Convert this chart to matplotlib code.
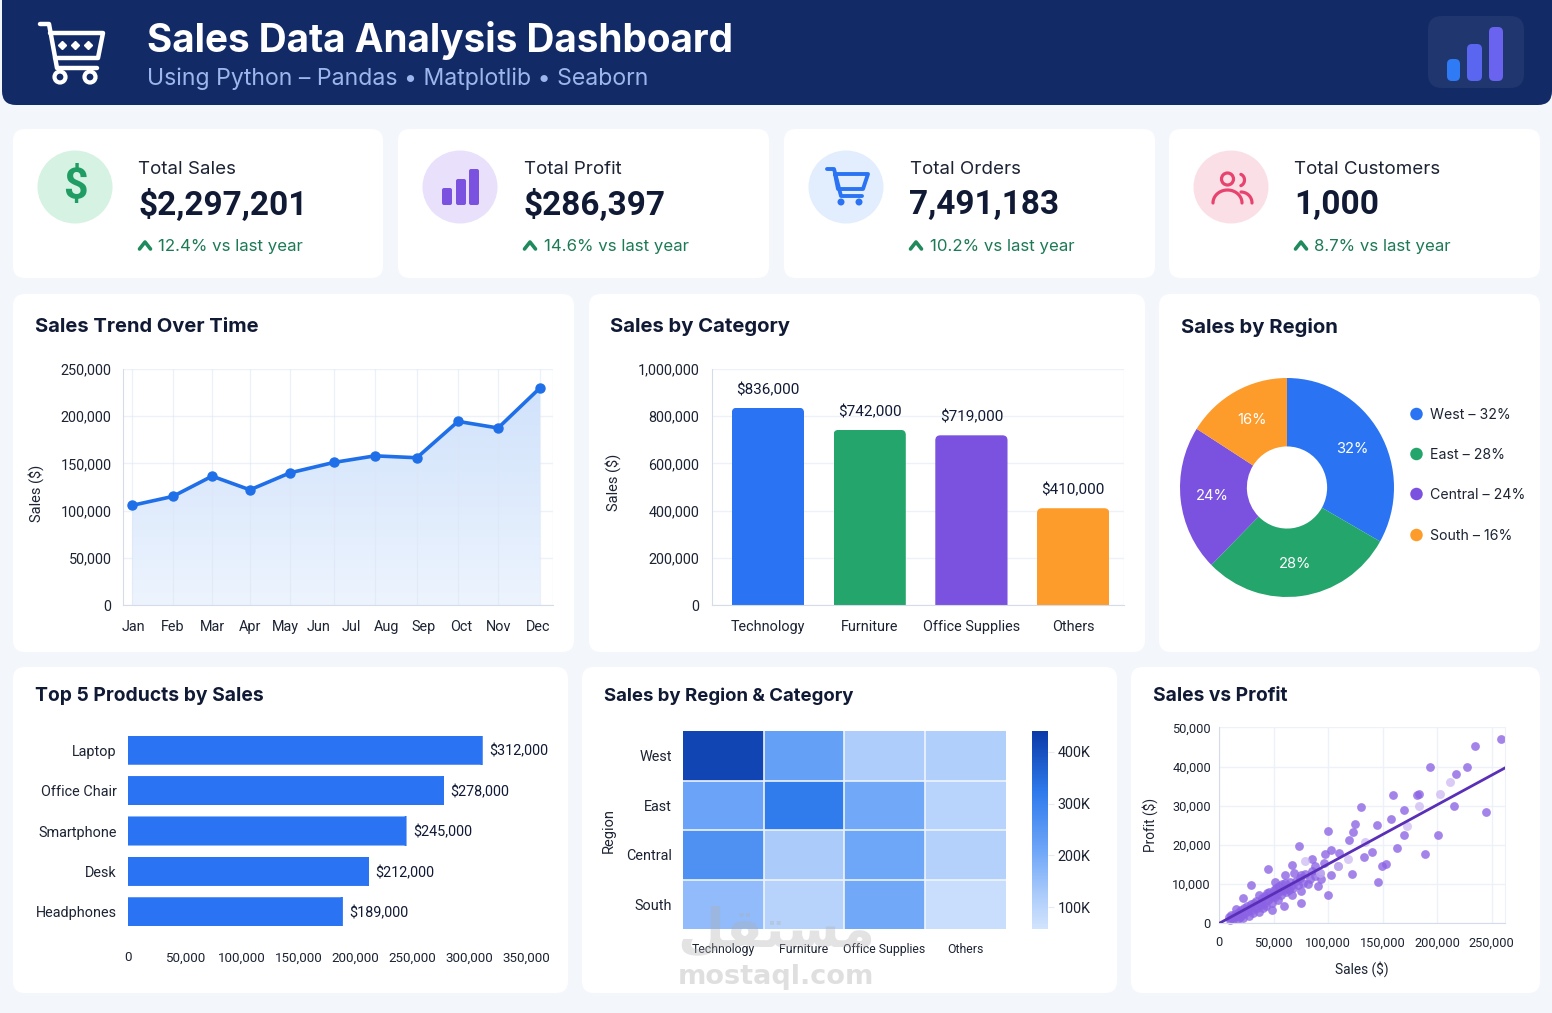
import numpy as np
import matplotlib
matplotlib.use("Agg")
import matplotlib.pyplot as plt
from matplotlib.colors import LinearSegmentedColormap
from matplotlib.patches import FancyBboxPatch, Ellipse, Polygon
from matplotlib.transforms import IdentityTransform
from matplotlib.ticker import FuncFormatter

# chart text is narrow, so Roboto is the default; headings name Inter
plt.rcParams['font.family'] = ['Roboto', 'DejaVu Sans']
INTER = ['Inter', 'DejaVu Sans']

W, H = 1552, 1013

# kpi cards
kpi_titles = ["Total Sales", "Total Profit", "Total Orders", "Total Customers"]
kpi_values = ["$2,297,201", "$286,397", "7,491,183", "1,000"]
kpi_changes = ["12.4% vs last year", "14.6% vs last year", "10.2% vs last year", "8.7% vs last year"]

# sales trend, months as read against the axis
trend_month = [0, 1.1, 2.16, 3.18, 4.26, 5.44, 6.55, 7.68, 8.79, 9.87, 11]
trend_sales = [105500, 115000, 136500, 122000, 140000, 151000, 158000, 156000, 194500, 187500, 230000]
month_labels = ["Jan", "Feb", "Mar", "Apr", "May", "Jun", "Jul", "Aug", "Sep", "Oct", "Nov", "Dec"]
month_ticks = [0.05, 1.1, 2.16, 3.18, 4.13, 5.02, 5.9, 6.87, 7.87, 8.87, 9.89, 10.95]

categories = ["Technology", "Furniture", "Office Supplies", "Others"]
category_sales = [836000, 742000, 719000, 410000]
category_colors = ["#2a74f3", "#23a56b", "#7b52e0", "#fd9b2b"]

regions = ["West", "East", "Central", "South"]
region_share = [32, 28, 24, 16]
# slices as drawn, they do not quite follow the printed shares
region_slice = [33.2, 29.3, 21.5, 16]
region_colors = ["#2a74f3", "#23a56b", "#7b52e0", "#fd9b2b"]
share_angle = [30, -84, 186, 118]

products = ["Laptop", "Office Chair", "Smartphone", "Desk", "Headphones"]
product_sales = [312000, 278000, 245000, 212000, 189000]

# region x category, in thousands
heat_west = [420, 225, 120, 115]
heat_east = [215, 320, 205, 100]
heat_central = [265, 125, 210, 110]
heat_south = [160, 105, 205, 75]

# sales vs profit, in thousands
scatter_sales = [259, 234.5, 227.5, 193, 217, 183, 181.5, 159, 130, 170, 215, 245, 158, 125, 144.5,
                 99.5, 122.5, 201, 170, 119, 73, 189, 163, 103, 97, 110, 140, 133, 85, 67, 88, 96,
                 153, 149.5, 44.5, 109, 122, 60, 103, 92, 75, 69, 145.5, 51, 29.5, 93, 81.5, 91,
                 75, 100, 67, 75, 22, 59.5, 48, 36,
                 9, 10, 11, 12, 13, 14, 15, 16, 17, 18, 19, 20, 21, 22, 23, 24, 25, 26, 27, 28, 29,
                 30, 31, 32, 33, 34, 35, 36, 37, 38, 39, 40, 41, 42, 43, 44, 45, 46, 47, 48, 49, 50,
                 51, 52, 53, 54, 55, 56, 57, 58, 59, 60, 61, 62, 64, 65, 66, 68, 70, 72, 74, 77, 79,
                 83, 85, 88]
scatter_profit = [47, 45.3, 40, 39.8, 38, 33, 32.7, 32.8, 29.6, 29, 30, 28.5, 26.7, 25.3, 25,
                  23.5, 23.2, 22.5, 22.5, 21.2, 19.7, 17.7, 19.2, 18.6, 17.7, 18, 18.2, 16.8, 16.5, 14.8, 14.6, 15.5,
                  15.1, 14.5, 13.8, 14.6, 12.7, 12.2, 12.4, 12.8, 12.3, 12.9, 10.5, 10.5, 9.8, 11.2, 10, 9.5,
                  8.3, 7.1, 7.2, 5.3, 6.5, 4.3, 3.5, 3,
                  1.6, 0.9, 2.1, 1.3, 1.0, 2.4, 3.6, 1.9, 1.2, 2.9, 1.6, 3.4, 2.2, 1.4, 3.9, 2.7, 4.5, 3.1, 1.8, 4.0, 4.9,
                  3.5, 2.6, 5.1, 4.2, 5.8, 3.9, 7.3, 4.7, 5.5, 6.4, 3.8, 5.0, 6.9, 4.4, 7.7, 5.9, 8.0, 6.4, 5.2, 7.0, 8.4,
                  6.6, 9.0, 7.5, 5.9, 9.4, 8.2, 7.1, 9.9, 8.6, 10.2, 7.9, 9.1, 8.4, 10.6, 9.5, 8.9, 10.9, 9.8, 11.6, 10.4, 12.6,
                  11.2, 13.3, 12.0]
faint_sales = [202.5, 183, 212, 172, 134, 118, 79, 92, 109]
faint_profit = [32.9, 30, 36, 24.8, 20.8, 16.4, 15.8, 12.8, 14.6]
fit_sales = [0, 262]
fit_profit = [0, 39.6]

TEXT = "#1c2333"
DARK = "#111a35"
GRID = "#eef1f8"
SPINE = "#d5dbe8"
BLUE = "#2a74f3"

fig = plt.figure(figsize=(W / 100, H / 100), dpi=100, facecolor="#f3f6fb")


def ax_px(left, top, right, bottom, **kw):
    return fig.add_axes([left / W, 1 - bottom / H, (right - left) / W, (bottom - top) / H], **kw)


def style(ax, size=10.4):
    ax.set_facecolor("none")
    ax.tick_params(length=0, labelsize=size, labelcolor=TEXT)
    ax.set_axisbelow(True)
    for s in ax.spines.values():
        s.set_visible(False)


def show_spines(ax):
    for name in ["left", "bottom"]:
        ax.spines[name].set_visible(True)
        ax.spines[name].set_color(SPINE)


def round_bars(bars, r, horizontal=False):
    # clip the plain bars to a rounded box, square on the baseline side
    for b in bars:
        x0, y0 = b.axes.transData.transform((b.get_x(), b.get_y()))
        x1, y1 = b.axes.transData.transform((b.get_x() + b.get_width(), b.get_y() + b.get_height()))
        if horizontal:
            x0 -= 2 * r
        else:
            y0 -= 2 * r
        clip = FancyBboxPatch((x0 + r, y0 + r), x1 - x0 - 2 * r, y1 - y0 - 2 * r,
                              boxstyle="round,pad=%f" % r, transform=IdentityTransform())
        b.set_clip_path(clip)


# backdrop with px coordinates
bg = fig.add_axes([0, 0, 1, 1], zorder=0)
bg.set_xlim(0, W)
bg.set_ylim(H, 0)
bg.axis("off")


def card(x0, y0, x1, y1, color="white", r=12, ax=bg, z=1):
    ax.add_patch(FancyBboxPatch((x0 + r, y0 + r), x1 - x0 - 2 * r, y1 - y0 - 2 * r,
                                boxstyle="round,pad=%d" % r, fc=color, ec="none", zorder=z))


def stroke(xs, ys, color, lw=2.5, z=4):
    bg.plot(xs, ys, color=color, lw=lw, solid_capstyle="round", solid_joinstyle="round", zorder=z)


def arc(cx, cy, rx, ry, a0, a1, color, lw=2.3):
    t = np.radians(np.linspace(a0, a1, 40))
    stroke(cx + rx * np.cos(t), cy - ry * np.sin(t), color, lw)


# header
card(2, -30, 1552, 105, "#122b66", r=14)
bg.text(147, 40.5, "Sales Data Analysis Dashboard", color="white", fontsize=27.9, fontweight="bold", va="center",
        zorder=5, family=INTER)
bg.text(147, 79, "Using Python – Pandas • Matplotlib • Seaborn", color="#9db7ee", fontsize=16.6, va="center",
        zorder=5, family=INTER)
stroke([40, 49, 57, 97], [24, 24, 68, 68], "white", 3.2)
stroke([50, 103, 98, 55], [33, 33, 58, 58], "white", 3.2)
for cx in [60, 90]:
    bg.add_patch(Ellipse((cx, 77), 11, 11, fc="none", ec="white", lw=3, zorder=4))
bg.plot([62, 75, 88], [45, 45, 45], ls="none", marker="D", ms=4, color="white", zorder=4)
card(1428, 16, 1524, 88, "#20366f", r=14, z=2)
for x0, x1, y0, c in [(1447, 1460, 59, "#2f7bf6"), (1467, 1482, 44, "#5a66f0"), (1489, 1503, 27, "#6a63ef")]:
    card(x0, y0, x1, 81, c, r=5, z=3)

# kpi row
kpi_x = [(13, 383), (398, 769), (784, 1155), (1169, 1540)]
kpi_fill = ["#d5f2e3", "#e9e0fb", "#e2eefd", "#fbdfe6"]
for i, (x0, x1) in enumerate(kpi_x):
    card(x0, 129, x1, 278)
    bg.add_patch(Ellipse((x0 + 62, 187), 75, 73, fc=kpi_fill[i], ec="none", zorder=2))
    tx = x0 + 125.5
    bg.text(tx, 169, kpi_titles[i], color=TEXT, fontsize=13.5, va="center", zorder=5, family=INTER)
    bg.text(tx, 205, kpi_values[i], color=DARK, fontsize=24, fontweight="bold", va="center", zorder=5)
    bg.text(tx + 20, 246, kpi_changes[i], color="#1c7a55", fontsize=12.1, va="center", zorder=5, family=INTER)
    stroke([tx + 1, tx + 6.5, tx + 12], [249, 242, 249], "#1f8a5b", 2.6)

# kpi icons
bg.text(75, 187, "$", color="#1f9d63", fontsize=31, fontweight="bold", ha="center", va="center", zorder=5)
for x0, x1, y0 in [(442, 452, 188), (456, 466, 179), (469, 479, 169)]:
    card(x0, y0, x1, 205, "#7b52e0", r=2, z=3)
stroke([827, 834, 841, 862], [169, 169, 196, 196], BLUE, 2.8)
stroke([835, 868, 863, 838, 835], [174, 174, 189, 189, 174], BLUE, 2.8)
for cx in [841, 859]:
    bg.add_patch(Ellipse((cx, 202), 7, 7, fc=BLUE, ec="none", zorder=4))
PINK = "#e8436f"
bg.add_patch(Ellipse((1227.5, 179), 12, 12, fc="none", ec=PINK, lw=2.3, zorder=4))
arc(1239, 180, 5.5, 6, 70, -70, PINK)
arc(1227.5, 203, 14.5, 13, 0, 180, PINK)
arc(1241, 203, 11, 11, 0, 90, PINK)

# chart cards
for box in [(13, 294, 574, 652), (589, 294, 1145, 652), (1159, 294, 1540, 652),
            (13, 667, 568, 993), (582, 667, 1117, 993), (1131, 667, 1540, 993)]:
    card(*box)
for x, y, t, size in [(35, 327, "Sales Trend Over Time", 14.5), (610, 327, "Sales by Category", 14.6),
                      (1181, 327, "Sales by Region", 14.6), (35, 696, "Top 5 Products by Sales", 13.9),
                      (604, 696, "Sales by Region & Category", 13.4), (1153, 696, "Sales vs Profit", 13.85)]:
    bg.text(x, y, t, color=DARK, fontsize=size, fontweight="bold", va="center", zorder=5, family=INTER)

comma = FuncFormatter(lambda v, p: f"{int(v):,}")

# sales trend
ax = ax_px(122.5, 369, 553, 605)
style(ax)
ax.set_xlim(-0.256, 11.35)
ax.set_ylim(0, 250000)
ax.set_yticks(range(0, 250001, 50000))
ax.yaxis.set_major_formatter(comma)
ax.set_xticks(month_ticks, month_labels)
ax.tick_params(axis="x", pad=11)
ax.tick_params(axis="y", pad=8)
ax.grid(axis="y", color=GRID, lw=1)
ax.axvline(ax.get_xlim()[1], color=GRID, lw=1)
show_spines(ax)
grad = np.linspace(0, 1, 256).reshape(-1, 1)
fill_cmap = LinearSegmentedColormap.from_list("f", ["#d0e2fb", "#edf4fe"])
im = ax.imshow(grad, cmap=fill_cmap, aspect="auto", extent=[trend_month[0], trend_month[-1], 0, max(trend_sales)], zorder=1)
poly = Polygon(list(zip(trend_month, trend_sales)) + [(trend_month[-1], 0), (trend_month[0], 0)], fc="none", ec="none")
ax.add_patch(poly)
im.set_clip_path(poly)
ax.set_xlim(-0.256, 11.35)
ax.set_ylim(0, 250000)
for m in trend_month:
    ax.axvline(m, color="#dde5f5", lw=0.9, alpha=0.55, zorder=2)
ax.plot(trend_month, trend_sales, color="#1f6fe8", lw=2.6, marker="o", ms=6.5, zorder=3, clip_on=False)
ax.set_ylabel("Sales ($)", color=TEXT, fontsize=10.5)
ax.yaxis.set_label_coords((44 - 122.5) / 430.5, 0.475)

# sales by category
ax = ax_px(712, 369, 1124, 605)
style(ax)
ax.set_xlim(-0.55, 3.5)
ax.set_ylim(0, 1000000)
ax.set_yticks(range(0, 1000001, 200000))
ax.yaxis.set_major_formatter(comma)
ax.set_xticks(range(4), categories)
ax.tick_params(axis="x", pad=11)
ax.tick_params(axis="y", pad=9)
ax.grid(axis="y", color=GRID, lw=1)
ax.axvline(ax.get_xlim()[1], color=GRID, lw=1)
show_spines(ax)
bars = ax.bar(range(4), category_sales, width=0.71, color=category_colors, zorder=2)
round_bars(bars, 5)
for i, v in enumerate(category_sales):
    ax.annotate(f"${v:,}", (i, v), xytext=(0, 10), textcoords="offset points", ha="center", color=DARK, fontsize=11)
ax.set_ylabel("Sales ($)", color=TEXT, fontsize=10.5)
ax.yaxis.set_label_coords((621 - 712) / 412, 0.52)

# sales by region
ax = ax_px(1180, 378, 1394, 597)
ax.pie(region_slice, colors=region_colors, startangle=90, counterclock=False, radius=1,
       wedgeprops={"width": 0.625})
ax.set_aspect("auto")
ax.set_xlim(-1, 1)
ax.set_ylim(-1, 1)
for v, a in zip(region_share, share_angle):
    ax.text(0.7 * np.cos(np.radians(a)), 0.7 * np.sin(np.radians(a)), f"{v}%", color="white",
            fontsize=10.6, ha="center", va="center", family=INTER)
for i, y in enumerate([414, 454, 494, 535]):
    bg.add_patch(Ellipse((1416.5, y), 12.5, 12.5, fc=region_colors[i], ec="none", zorder=4))
    bg.text(1430, y + 1, f"{regions[i]} – {region_share[i]}%", color=TEXT, fontsize=10.2, va="center", zorder=5, family=INTER)

# top 5 products
ax = ax_px(128, 730, 548, 932)
style(ax, 9.6)
ax.set_xlim(0, 369400)
ax.set_ylim(4.5, -0.5)
ax.set_yticks(range(5), products)
ax.set_xticks(range(0, 350001, 50000))
ax.xaxis.set_major_formatter(comma)
ax.tick_params(axis="x", pad=14)
ax.tick_params(axis="y", pad=8, labelsize=10.4)
bars = ax.barh(range(5), product_sales, height=0.72, color=BLUE, zorder=2)
round_bars(bars, 3, horizontal=True)
for i, v in enumerate(product_sales):
    ax.annotate(f"${v:,}", (v, i), xytext=(4.5, -1), textcoords="offset points", va="center", color=DARK, fontsize=10.4)

# region / category heatmap
heat_cmap = LinearSegmentedColormap.from_list(
    "h", [(0, "#d2e4fd"), (0.16, "#aecdfb"), (0.40, "#6da5f8"), (0.69, "#2f7bed"), (1, "#0a3aa8")])
ax = ax_px(683, 731, 1005.5, 929)
style(ax)
heat = np.array([heat_west, heat_east, heat_central, heat_south])
mesh = ax.pcolormesh(heat, cmap=heat_cmap, vmin=58, vmax=440)
for k in range(1, 4):
    ax.axvline(k, color="#eef4fe", lw=1.2)
    ax.axhline(k, color="#eef4fe", lw=1.2)
ax.set_ylim(4, 0)
ax.set_xticks(np.arange(4) + 0.5, categories)
ax.set_yticks(np.arange(4) + 0.5, regions)
ax.tick_params(axis="x", pad=10, labelsize=8.8)
ax.tick_params(axis="y", pad=8)
ax.set_ylabel("Region", color=TEXT, fontsize=10.5)
ax.yaxis.set_label_coords((616 - 683) / 322.5, 0.5)
cax = ax_px(1032, 731, 1048, 929)
cb = fig.colorbar(mesh, cax=cax, ticks=[100, 200, 300, 400], format=FuncFormatter(lambda v, p: f"{int(v)}K"))
cb.outline.set_visible(False)
cax.tick_params(length=4, width=0.8, color="#e6eaf2", labelsize=10.4, labelcolor=TEXT, pad=3)

# sales vs profit
ax = ax_px(1219.3, 727.3, 1504.7, 923.3)
style(ax, 9.2)
ax.set_xlim(0, 262)
ax.set_ylim(0, 50)
ax.set_xticks(range(0, 251, 50), [f"{v * 1000:,}" for v in range(0, 251, 50)])
ax.set_yticks(range(0, 51, 10), [f"{v * 1000:,}" for v in range(0, 51, 10)])
ax.tick_params(axis="x", pad=9.5)
ax.tick_params(axis="y", pad=6)
ax.grid(color=GRID, lw=1)
show_spines(ax)
ax.spines["right"].set_visible(True)
ax.spines["right"].set_color(GRID)
ax.scatter(scatter_sales, scatter_profit, s=40, color="#8b62e4", alpha=0.78, linewidths=0, zorder=2, clip_on=False)
ax.scatter(faint_sales, faint_profit, s=42, color="#c9b6f2", alpha=0.7, linewidths=0, zorder=2)
ax.plot(fit_sales, fit_profit, color="#5a2fb8", lw=2, zorder=3)
ax.set_xlabel("Sales ($)", color=TEXT, fontsize=9.8, labelpad=8)
ax.set_ylabel("Profit ($)", color=TEXT, fontsize=9.8)
ax.yaxis.set_label_coords((1158 - 1219.3) / 285.4, 0.5)

# watermark sits on top of everything
top = fig.add_axes([0, 0, 1, 1], zorder=10)
top.set_xlim(0, W)
top.set_ylim(H, 0)
top.axis("off")
top.set_facecolor("none")
top.text(776, 977, "mostaql.com", color="#b9b9b9", alpha=0.45, fontsize=19.5, fontweight="bold",
         ha="center", va="center", family="DejaVu Sans")
top.text(776, 931, "\ufede\ufed8\ufe98\ufeb4\ufee3", color="#b0b0b0", alpha=0.35, fontsize=39, fontweight="bold",
         ha="center", va="center", family="DejaVu Sans")

fig.savefig("out.png", dpi=100)
